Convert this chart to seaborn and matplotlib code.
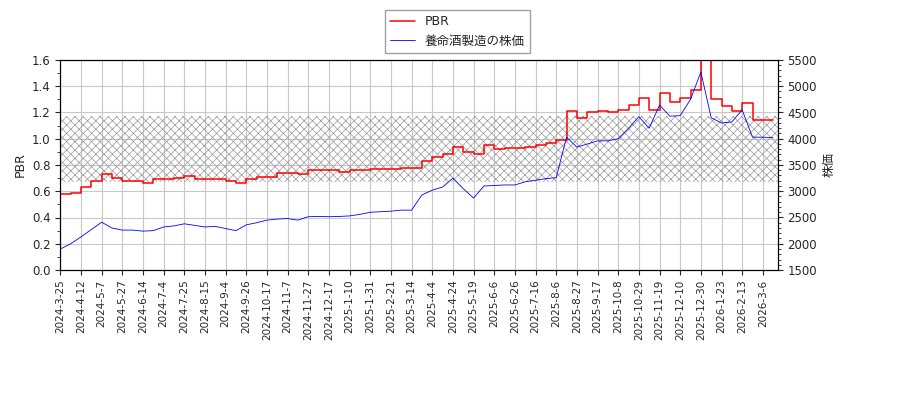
import matplotlib
matplotlib.use("Agg")
import matplotlib.pyplot as plt
import seaborn as sns
import numpy as np
import pandas as pd
from matplotlib.ticker import AutoMinorLocator

sns.set_style("white")
plt.rcParams['font.family'] = ['DejaVu Sans', 'Noto Sans CJK JP']
plt.rcParams['hatch.linewidth'] = 0.5

tick_labels = ["2024-3-25","2024-4-12","2024-5-7","2024-5-27","2024-6-14","2024-7-4","2024-7-25",
               "2024-8-15","2024-9-4","2024-9-26","2024-10-17","2024-11-7","2024-11-27","2024-12-17",
               "2025-1-10","2025-1-31","2025-2-21","2025-3-14","2025-4-4","2025-4-24","2025-5-19",
               "2025-6-6","2025-6-26","2025-7-16","2025-8-6","2025-8-27","2025-9-17","2025-10-8",
               "2025-10-29","2025-11-19","2025-12-10","2025-12-30","2026-1-23","2026-2-13","2026-3-6"]
price = [1900,2000,2130,2270,2410,2300,2260,2260,2240,2250,2320,2340,2380,2350,2320,2330,2290,2250,
         2360,2400,2450,2470,2480,2450,2515,2520,2515,2520,2530,2560,2600,2610,2620,2640,2640,2930,
         3020,3080,3250,3050,2870,3100,3110,3120,3120,3180,3210,3240,3260,4030,3840,3900,3960,3960,
         4000,4200,4420,4200,4640,4430,4440,4750,5270,4400,4300,4320,4550,4030,4030,4020]
pbr = [0.58,0.59,0.635,0.68,0.73,0.70,0.675,0.68,0.66,0.69,0.69,0.70,0.72,0.69,0.69,0.69,0.68,0.66,
       0.69,0.71,0.71,0.74,0.74,0.73,0.76,0.76,0.76,0.75,0.76,0.76,0.77,0.77,0.77,0.78,0.78,0.83,
       0.86,0.88,0.94,0.90,0.88,0.95,0.92,0.93,0.93,0.94,0.95,0.97,0.99,1.21,1.16,1.20,1.21,1.20,
       1.22,1.26,1.31,1.22,1.35,1.28,1.31,1.37,1.60,1.30,1.25,1.21,1.27,1.14,1.14,1.14]
step = 7
label_step = 14
n_days = 487
band_low, band_high = 0.67, 1.17

df = pd.DataFrame({"x": np.arange(len(price)) * step, "price": price, "pbr": pbr})

fig = plt.figure(figsize=(9, 4), dpi=100)
ax = fig.add_axes([0.067, 0.325, 0.797, 0.525])
ax2 = ax.twinx()

ax.fill_between([0, n_days - 1], band_low, band_high, facecolor="none",
                edgecolor="#999999", hatch="xxxx", linewidth=0)
sns.lineplot(data=df, x="x", y="pbr", ax=ax, color="red", linewidth=1.1, label="PBR",
             legend=False, drawstyle="steps-post")
sns.lineplot(data=df, x="x", y="price", ax=ax2, color="blue", linewidth=0.6, label="養命酒製造の株価", legend=False)

ax.set_xlim(0, n_days - 1)
ax.set_ylim(0, 1.6)
ax2.set_ylim(1500, 5500)
ax.set_xticks(np.arange(len(tick_labels)) * label_step)
ax.set_xticklabels(tick_labels, rotation=90, fontsize=7.5)
ax.tick_params(axis="y", labelsize=8.5)
ax2.tick_params(axis="y", labelsize=8.5)
ax.yaxis.set_minor_locator(AutoMinorLocator(2))
ax2.yaxis.set_minor_locator(AutoMinorLocator(5))
ax.tick_params(which="both", left=True, bottom=True, direction="out")
ax2.tick_params(which="both", right=True, direction="out")
ax.grid(True, color="#c8c8c8", linewidth=0.8)
ax.set_xlabel("")
ax.set_ylabel("PBR", fontsize=9)
ax2.set_ylabel("株価", fontsize=9, family=['Noto Sans CJK JP'])
for a in (ax, ax2):
    for s in a.spines.values():
        s.set_color("black")

h1, l1 = ax.get_legend_handles_labels()
h2, l2 = ax2.get_legend_handles_labels()
fig.legend(h1 + h2, l1 + l2, loc="upper center", bbox_to_anchor=(0.508, 0.99),
           fontsize=9, frameon=True, fancybox=False, edgecolor="#888888")
fig.savefig("out.png", dpi=100)
